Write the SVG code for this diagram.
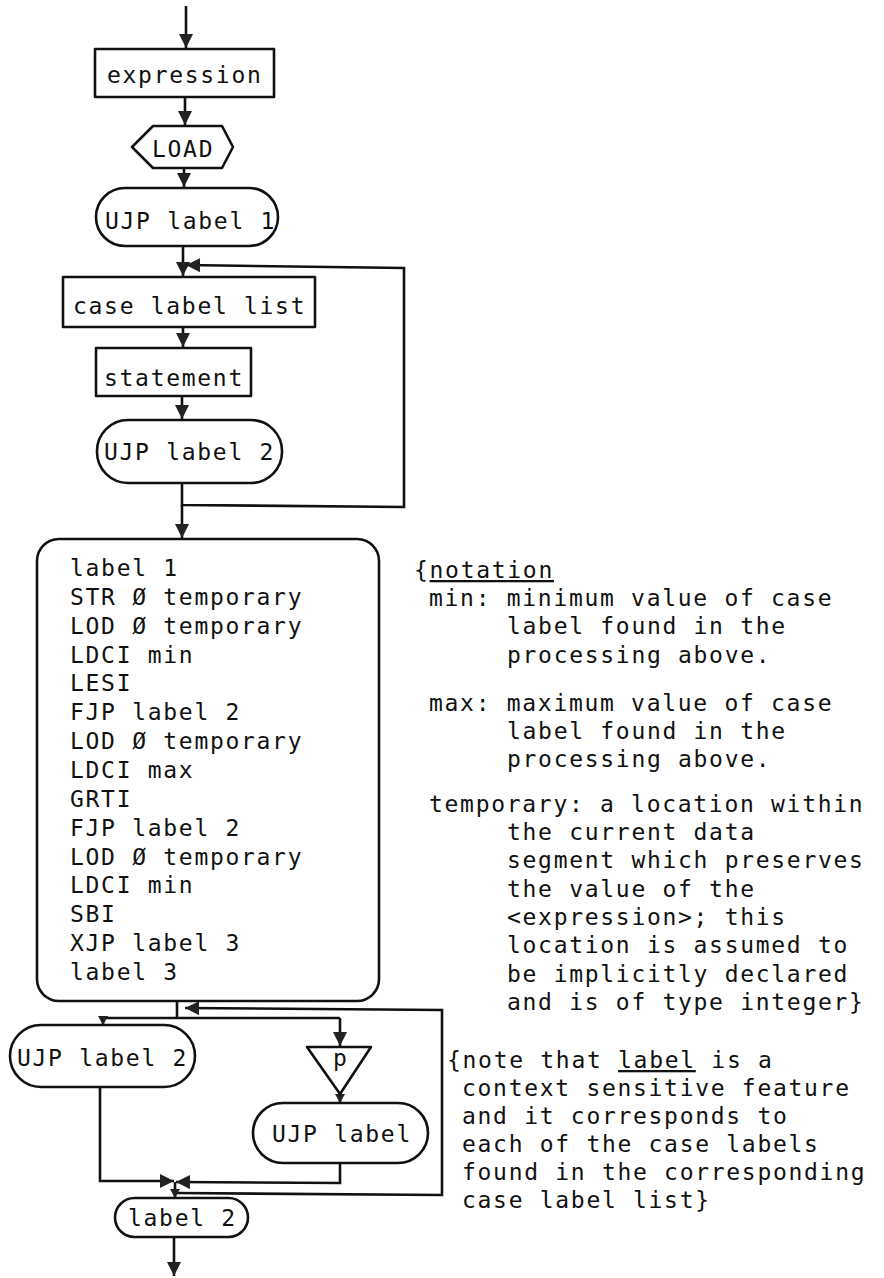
<svg xmlns="http://www.w3.org/2000/svg" width="884" height="1278" viewBox="0 0 884 1278">
<style>
  .shape { fill: none; stroke: #111; stroke-width: 2.6; stroke-linejoin: round; }
  .conn { fill: none; stroke: #111; stroke-width: 2.6; }
  .t { font-family: "DejaVu Sans Mono", "Liberation Mono", monospace; font-size: 23px; letter-spacing: 1.7px; fill: #111; }
  .u { text-decoration: underline; }
</style>
<defs>
  <marker id="ah" markerUnits="userSpaceOnUse" markerWidth="16" markerHeight="16" refX="14" refY="7" orient="auto">
    <path d="M0,0 L14,7 L0,14 Z" fill="#222"/>
  </marker>
  <marker id="ahs" markerUnits="userSpaceOnUse" markerWidth="12" markerHeight="12" refX="9" refY="5" orient="auto">
    <path d="M0,0 L9,5 L0,10 Z" fill="#222"/>
  </marker>
</defs>

<g id="connectors">
  <line class="conn" x1="186" y1="6" x2="186" y2="48" marker-end="url(#ah)"/>
  <line class="conn" x1="185" y1="97" x2="185" y2="125" marker-end="url(#ah)"/>
  <line class="conn" x1="184" y1="168" x2="184" y2="187" marker-end="url(#ah)"/>
  <line class="conn" x1="183" y1="246" x2="183" y2="276" marker-end="url(#ah)"/>
  <line class="conn" x1="183" y1="327" x2="183" y2="347" marker-end="url(#ah)"/>
  <line class="conn" x1="182" y1="396" x2="182" y2="419" marker-end="url(#ah)"/>
  <polyline class="conn" points="182,483 182,505 404,507 404,268 186,265" marker-end="url(#ah)"/>
  <line class="conn" x1="182" y1="505" x2="182" y2="538" marker-end="url(#ah)"/>
  <line class="conn" x1="177" y1="1001" x2="177" y2="1018"/>
  <polyline class="conn" points="177,1193 442,1195 442,1010 185,1008" marker-end="url(#ah)"/>
  <line class="conn" x1="103" y1="1018" x2="340" y2="1018"/>
  <line class="conn" x1="103" y1="1018" x2="103" y2="1025" marker-end="url(#ahs)"/>
  <line class="conn" x1="340" y1="1018" x2="340" y2="1046" marker-end="url(#ah)"/>
  <line class="conn" x1="340" y1="1093" x2="340" y2="1103" marker-end="url(#ahs)"/>
  <polyline class="conn" points="100,1087 100,1181 174,1181" marker-end="url(#ah)"/>
  <polyline class="conn" points="340,1163 340,1183 176,1182" marker-end="url(#ah)"/>
  <line class="conn" x1="175" y1="1182" x2="175" y2="1198" marker-end="url(#ahs)"/>
  <line class="conn" x1="174" y1="1237" x2="174" y2="1276" marker-end="url(#ah)"/>
</g>

<g id="n-expression">
  <rect class="shape" x="95" y="49" width="179" height="48"/>
  <text class="t" x="107" y="83">expression</text>
</g>
<g id="n-load">
  <polygon class="shape" points="132,147 153,126 222,126 233,147 222,168 153,168"/>
  <text class="t" x="152" y="157">LOAD</text>
</g>
<g id="n-ujp1">
  <rect class="shape" x="96" y="188" width="182" height="58" rx="29"/>
  <text class="t" x="105" y="229">UJP label 1</text>
</g>
<g id="n-caselist">
  <rect class="shape" x="63" y="277" width="252" height="50"/>
  <text class="t" x="73" y="314">case label list</text>
</g>
<g id="n-statement">
  <rect class="shape" x="96" y="348" width="155" height="48"/>
  <text class="t" x="104" y="386">statement</text>
</g>
<g id="n-ujp2">
  <rect class="shape" x="97" y="420" width="185" height="63" rx="31"/>
  <text class="t" x="104" y="460">UJP label 2</text>
</g>
<g id="n-code">
  <rect class="shape" x="37" y="539" width="342" height="462" rx="22"/>
  <text class="t" x="70" y="576">label 1</text>
  <text class="t" x="70" y="605">STR Ø temporary</text>
  <text class="t" x="70" y="634">LOD Ø temporary</text>
  <text class="t" x="70" y="663">LDCI min</text>
  <text class="t" x="70" y="691">LESI</text>
  <text class="t" x="70" y="720">FJP label 2</text>
  <text class="t" x="70" y="749">LOD Ø temporary</text>
  <text class="t" x="70" y="778">LDCI max</text>
  <text class="t" x="70" y="807">GRTI</text>
  <text class="t" x="70" y="836">FJP label 2</text>
  <text class="t" x="70" y="865">LOD Ø temporary</text>
  <text class="t" x="70" y="893">LDCI min</text>
  <text class="t" x="70" y="922">SBI</text>
  <text class="t" x="70" y="951">XJP label 3</text>
  <text class="t" x="70" y="980">label 3</text>
</g>
<g id="n-ujp2b">
  <rect class="shape" x="10" y="1025" width="185" height="62" rx="31"/>
  <text class="t" x="17" y="1066">UJP label 2</text>
</g>
<g id="n-p">
  <polygon class="shape" points="307,1047 371,1047 340,1094"/>
  <text class="t" x="333" y="1066">p</text>
</g>
<g id="n-ujplabel">
  <rect class="shape" x="253" y="1103" width="175" height="60" rx="30"/>
  <text class="t" x="272" y="1142">UJP label</text>
</g>
<g id="n-label2">
  <rect class="shape" x="115" y="1198" width="133" height="39" rx="19.5"/>
  <text class="t" x="128" y="1226">label 2</text>
</g>

<g id="notes">
  <text class="t" x="414" y="578">{<tspan class="u">notation</tspan></text>
  <text class="t" x="429" y="606">min: minimum value of case</text>
  <text class="t" x="507" y="634">label found in the</text>
  <text class="t" x="507" y="663">processing above.</text>
  <text class="t" x="429" y="711">max: maximum value of case</text>
  <text class="t" x="507" y="739">label found in the</text>
  <text class="t" x="507" y="767">processing above.</text>
  <text class="t" x="429" y="812">temporary: a location within</text>
  <text class="t" x="507" y="840">the current data</text>
  <text class="t" x="507" y="868">segment which preserves</text>
  <text class="t" x="507" y="897">the value of the</text>
  <text class="t" x="507" y="925">&lt;expression&gt;; this</text>
  <text class="t" x="507" y="953">location is assumed to</text>
  <text class="t" x="507" y="982">be implicitly declared</text>
  <text class="t" x="507" y="1010">and is of type integer}</text>
  <text class="t" x="447" y="1068">{note that <tspan class="u">label</tspan> is a</text>
  <text class="t" x="462" y="1096">context sensitive feature</text>
  <text class="t" x="462" y="1124">and it corresponds to</text>
  <text class="t" x="462" y="1152">each of the case labels</text>
  <text class="t" x="462" y="1180">found in the corresponding</text>
  <text class="t" x="462" y="1208">case label list}</text>
</g>
</svg>
